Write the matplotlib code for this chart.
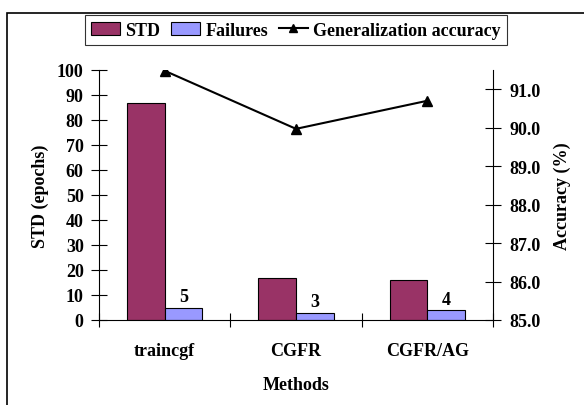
import matplotlib
matplotlib.use("Agg")
import matplotlib.pyplot as plt
from matplotlib.patches import Rectangle
from matplotlib.lines import Line2D
import numpy as np

methods = ["traincgf", "CGFR", "CGFR/AG"]
std_epochs = [87, 17, 16]
failures = [5, 3, 4]
accuracy = [91.48, 89.97, 90.70]

plt.rcParams['font.family'] = ['Liberation Serif', 'DejaVu Serif']
plt.rcParams['font.weight'] = 'bold'
FS = 13

fig = plt.figure(figsize=(5.84, 4.06), dpi=100)
ax = fig.add_axes([99/584, 1-321/406, (493-99)/584, (321-71)/406])

x = np.arange(len(methods))
w = 0.2857
purple = "#993366"
lav = "#9999FF"
b1 = ax.bar(x - w/2, std_epochs, w, color=purple, edgecolor="black", linewidth=0.8, zorder=2)
b2 = ax.bar(x + w/2, failures, w, color=lav, edgecolor="black", linewidth=0.8, zorder=2)
for xi, f in zip(x, failures):
    ax.text(xi + w/2, f + 0.8, str(f), ha="center", va="bottom", fontsize=FS, fontweight="bold")

ax.set_xlim(-0.5, 2.5)
ax.set_ylim(0, 100)
ax.set_yticks(np.arange(0, 101, 10))
ax.tick_params(axis="y", direction="inout", length=12, width=0.8, labelsize=FS, pad=5)
ax.set_xticks([-0.5, 0.5, 1.5, 2.5])
ax.set_xticklabels([])
ax.tick_params(axis="x", which="major", direction="inout", length=10, width=0.8)
ax.set_xticks(x, minor=True)
ax.set_xticklabels(methods, minor=True, fontsize=FS, fontweight="bold")
ax.tick_params(axis="x", which="minor", length=0, pad=16)
ax.spines["top"].set_visible(False)
ax.spines["right"].set_visible(False)
for s in ["left", "bottom"]:
    ax.spines[s].set_linewidth(0.8)
ax.set_ylabel("STD (epochs)", fontsize=FS, fontweight="bold", labelpad=6)
ax.set_xlabel("Methods", fontsize=FS, fontweight="bold", labelpad=12)

ax2 = ax.twinx()
ax2.plot(x, accuracy, color="black", linewidth=1.5, marker="^", markersize=7, zorder=3)
ax2.set_ylim(85, 91.5)
ax2.set_yticks(np.arange(85, 91.1, 1.0))
ax2.set_yticklabels([f"{v:.1f}" for v in np.arange(85, 91.1, 1.0)])
ax2.tick_params(axis="y", direction="inout", length=12, width=0.8, labelsize=FS, pad=6)
for s in ["top", "left", "bottom"]:
    ax2.spines[s].set_visible(False)
ax2.spines["right"].set_linewidth(0.8)
ax2.set_ylabel("Accuracy (%)", fontsize=FS, fontweight="bold", labelpad=9)

handles = [Rectangle((0, 0), 1, 1, facecolor=purple, edgecolor="black", linewidth=0.8),
           Rectangle((0, 0), 1, 1, facecolor=lav, edgecolor="black", linewidth=0.8),
           Line2D([], [], color="black", linewidth=1.5, marker="^", markersize=6)]
leg = fig.legend(handles, ["STD", "Failures", "Generalization accuracy"],
                 loc="center", bbox_to_anchor=(296/584, 1-31/406), ncol=3,
                 fontsize=FS, frameon=True, fancybox=False, edgecolor="black",
                 handlelength=1.6, handletextpad=0.3, columnspacing=0.6,
                 borderpad=0.35, handleheight=0.7)
leg.get_frame().set_linewidth(0.8)
for t in leg.get_texts():
    t.set_fontweight("bold")

fig.patches.append(Rectangle((7/584, -0.1), 1.2, 1-14/406+0.1, transform=fig.transFigure,
                             fill=False, edgecolor="black", linewidth=1.2, zorder=0))

fig.savefig("out.png", dpi=100)
